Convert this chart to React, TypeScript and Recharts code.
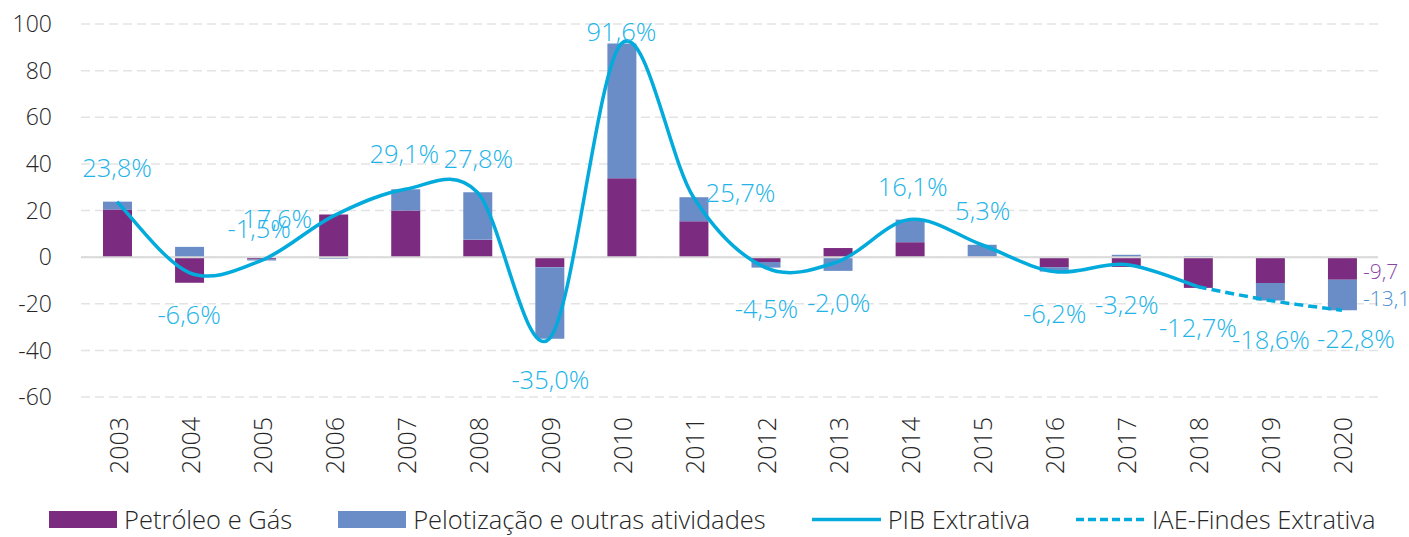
import React from 'react';
import {
  ComposedChart,
  Bar,
  Line,
  XAxis,
  YAxis,
  CartesianGrid,
  ReferenceLine,
  LabelList,
} from 'recharts';

// ---------- data ----------
const years = [
  '2003', '2004', '2005', '2006', '2007', '2008', '2009', '2010', '2011',
  '2012', '2013', '2014', '2015', '2016', '2017', '2018', '2019', '2020',
];
const petroleoGas = [
  20.4, -11.0, -1.0, 18.3, 20.0, 7.4, -4.3, 33.8, 15.4,
  -2.1, 3.9, 6.4, 0.2, -4.3, -4.2, -13.2, -11.1, -9.7,
];
const pelotizacao = [
  3.4, 4.4, -0.5, -0.7, 9.1, 20.4, -30.7, 57.8, 10.3,
  -2.4, -5.9, 9.7, 5.1, -1.9, 1.0, 0.5, -7.5, -13.1,
];
const pibExtrativa: (number | null)[] = [
  23.8, -6.6, -1.5, 17.6, 29.1, 27.8, -35.0, 91.6, 25.7,
  -4.5, -2.0, 16.1, 5.3, -6.2, -3.2, -12.7, null, null,
];
const iaeFindes: (number | null)[] = [
  null, null, null, null, null, null, null, null, null,
  null, null, null, null, null, null, -12.7, -18.6, -22.8,
];
const yTicks = [-60, -40, -20, 0, 20, 40, 60, 80, 100];

// label placement relative to the point (dx, dy) in px
const labelOffsets: Record<string, [number, number]> = {
  '2003': [0, -35], '2004': [0, 41], '2005': [-2, -33], '2006': [-56, 2],
  '2007': [-1, -36], '2008': [1, -34], '2009': [1, 40], '2010': [0, -13],
  '2011': [47, -5], '2012': [1, 40], '2013': [1, 40], '2014': [3, -34],
  '2015': [1, -35], '2016': [1, 41], '2017': [1, 39], '2018': [0, 40],
  '2019': [1, 39], '2020': [14, 28],
};

const data = years.map((y, i) => ({
  year: y,
  petroleo: petroleoGas[i],
  pelot: pelotizacao[i],
  pib: pibExtrativa[i],
  iae: iaeFindes[i],
}));

// ---------- styles ----------
const FONT = "'Open Sans', 'Noto Sans', sans-serif";
const C_PURPLE = '#7B2C80';
const C_BLUE = '#6A8DC8';
const C_LINE = '#02ABDC';
const C_LABEL = '#22B4E8';
const C_TEXT = '#262626';

// Excel-like smoothed curve (Catmull-Rom bezier) as a d3 curve factory
const excelSmooth: any = (context: any) => {
  let pts: [number, number][] = [];
  return {
    areaStart() {},
    areaEnd() {},
    lineStart() {
      pts = [];
    },
    lineEnd() {
      if (!pts.length) return;
      context.moveTo(pts[0][0], pts[0][1]);
      for (let i = 0; i < pts.length - 1; i++) {
        const p0 = pts[i - 1] || pts[i];
        const p1 = pts[i];
        const p2 = pts[i + 1];
        const p3 = pts[i + 2] || p2;
        context.bezierCurveTo(
          p1[0] + (p2[0] - p0[0]) / 6,
          p1[1] + (p2[1] - p0[1]) / 6,
          p2[0] - (p3[0] - p1[0]) / 6,
          p2[1] - (p3[1] - p1[1]) / 6,
          p2[0],
          p2[1]
        );
      }
    },
    point(x: number, y: number) {
      pts.push([+x, +y]);
    },
  };
};

const fmt = (v: number) => v.toFixed(1).replace('.', ',') + '%';

const makePctLabel = (skip: (i: number) => boolean) => (props: any) => {
  const { x, y, value, index } = props;
  if (value == null || skip(index)) return null;
  const [dx, dy] = labelOffsets[years[index]] || [0, -35];
  return (
    <text
      x={x + dx}
      y={y + dy}
      textAnchor="middle"
      dominantBaseline="central"
      fill={C_LABEL}
      fontSize={25.5}
      fontFamily={FONT}
      fontWeight={300}
    >
      {fmt(value)}
    </text>
  );
};

const makeBarEndLabel = (color: string) => (props: any) => {
  const { x, y, width, height, value, index } = props;
  if (index !== years.length - 1 || value == null) return null;
  return (
    <text
      x={x + width + 6}
      y={y + height / 2 + 3}
      textAnchor="start"
      dominantBaseline="central"
      fill={color}
      fontSize={21}
      fontFamily={FONT}
      fontWeight={300}
    >
      {String(value).replace('.', ',')}
    </text>
  );
};

const YearTick = (props: any) => {
  const { x, y, payload } = props;
  const ty = y + 20;
  return (
    <text
      x={x}
      y={ty}
      transform={`rotate(-90 ${x} ${ty})`}
      textAnchor="end"
      dy="0.42em"
      fill={C_TEXT}
      fontSize={25}
      fontFamily={FONT}
      fontWeight={300}
    >
      {payload.value}
    </text>
  );
};

const legendItems = [
  { label: 'Petróleo e Gás', kind: 'rect', color: C_PURPLE },
  { label: 'Pelotização e outras atividades', kind: 'rect', color: C_BLUE },
  { label: 'PIB Extrativa', kind: 'line', color: C_LINE },
  { label: 'IAE-Findes Extrativa', kind: 'dash', color: C_LINE },
];

export default function App() {
  return (
    <div
      style={{
        position: 'absolute',
        left: 0,
        top: 0,
        width: 1409,
        height: 537,
        background: '#fff',
        fontFamily: FONT,
        overflow: 'hidden',
      }}
    >
      <ComposedChart
        width={1409}
        height={537}
        data={data}
        stackOffset="sign"
        margin={{ top: 24, right: 31, bottom: 60, left: 0 }}
      >
        <CartesianGrid
          horizontal
          vertical={false}
          stroke="#E3E3E3"
          strokeWidth={1.5}
          strokeDasharray="9 5"
        />
        <XAxis
          dataKey="year"
          axisLine={false}
          tickLine={false}
          tickSize={0}
          tickMargin={0}
          height={80}
          interval={0}
          tick={<YearTick />}
        />
        <YAxis
          domain={[-60, 100]}
          ticks={yTicks}
          axisLine={false}
          tickLine={false}
          tickSize={0}
          tickMargin={29}
          width={81}
          tick={{ fill: C_TEXT, fontSize: 23, fontFamily: FONT, fontWeight: 300 }}
        />
        <Bar
          dataKey="petroleo"
          stackId="a"
          fill={C_PURPLE}
          barSize={29}
          isAnimationActive={false}
        >
          <LabelList dataKey="petroleo" content={makeBarEndLabel('#8A47A6')} />
        </Bar>
        <Bar
          dataKey="pelot"
          stackId="a"
          fill={C_BLUE}
          barSize={29}
          isAnimationActive={false}
        >
          <LabelList dataKey="pelot" content={makeBarEndLabel('#4A8ED0')} />
        </Bar>
        <ReferenceLine y={0} stroke="#D9D9D9" strokeWidth={2} />
        <Line
          dataKey="pib"
          type={excelSmooth}
          stroke={C_LINE}
          strokeWidth={3.5}
          dot={false}
          activeDot={false}
          isAnimationActive={false}
        >
          <LabelList dataKey="pib" content={makePctLabel(() => false)} />
        </Line>
        <Line
          dataKey="iae"
          type={excelSmooth}
          stroke={C_LINE}
          strokeWidth={3.5}
          strokeDasharray="9 5"
          dot={false}
          activeDot={false}
          isAnimationActive={false}
        >
          <LabelList dataKey="iae" content={makePctLabel((i) => i < 16)} />
        </Line>
      </ComposedChart>
      <div
        style={{
          position: 'absolute',
          left: 49,
          top: 505,
          height: 28,
          display: 'flex',
          alignItems: 'center',
          gap: 46,
          whiteSpace: 'nowrap',
        }}
      >
        {legendItems.map((it) => (
          <div key={it.label} style={{ display: 'flex', alignItems: 'center', gap: 7 }}>
            {it.kind === 'rect' ? (
              <div style={{ width: 68, height: 17, background: it.color }} />
            ) : (
              <svg width={69} height={17} style={{ display: 'block' }}>
                <line
                  x1={0}
                  y1={8.5}
                  x2={69}
                  y2={8.5}
                  stroke={it.color}
                  strokeWidth={3.5}
                  strokeDasharray={it.kind === 'dash' ? '8 4' : undefined}
                />
              </svg>
            )}
            <span style={{ fontSize: 25.5, color: C_TEXT, fontWeight: 300, lineHeight: '28px' }}>
              {it.label}
            </span>
          </div>
        ))}
      </div>
    </div>
  );
}
